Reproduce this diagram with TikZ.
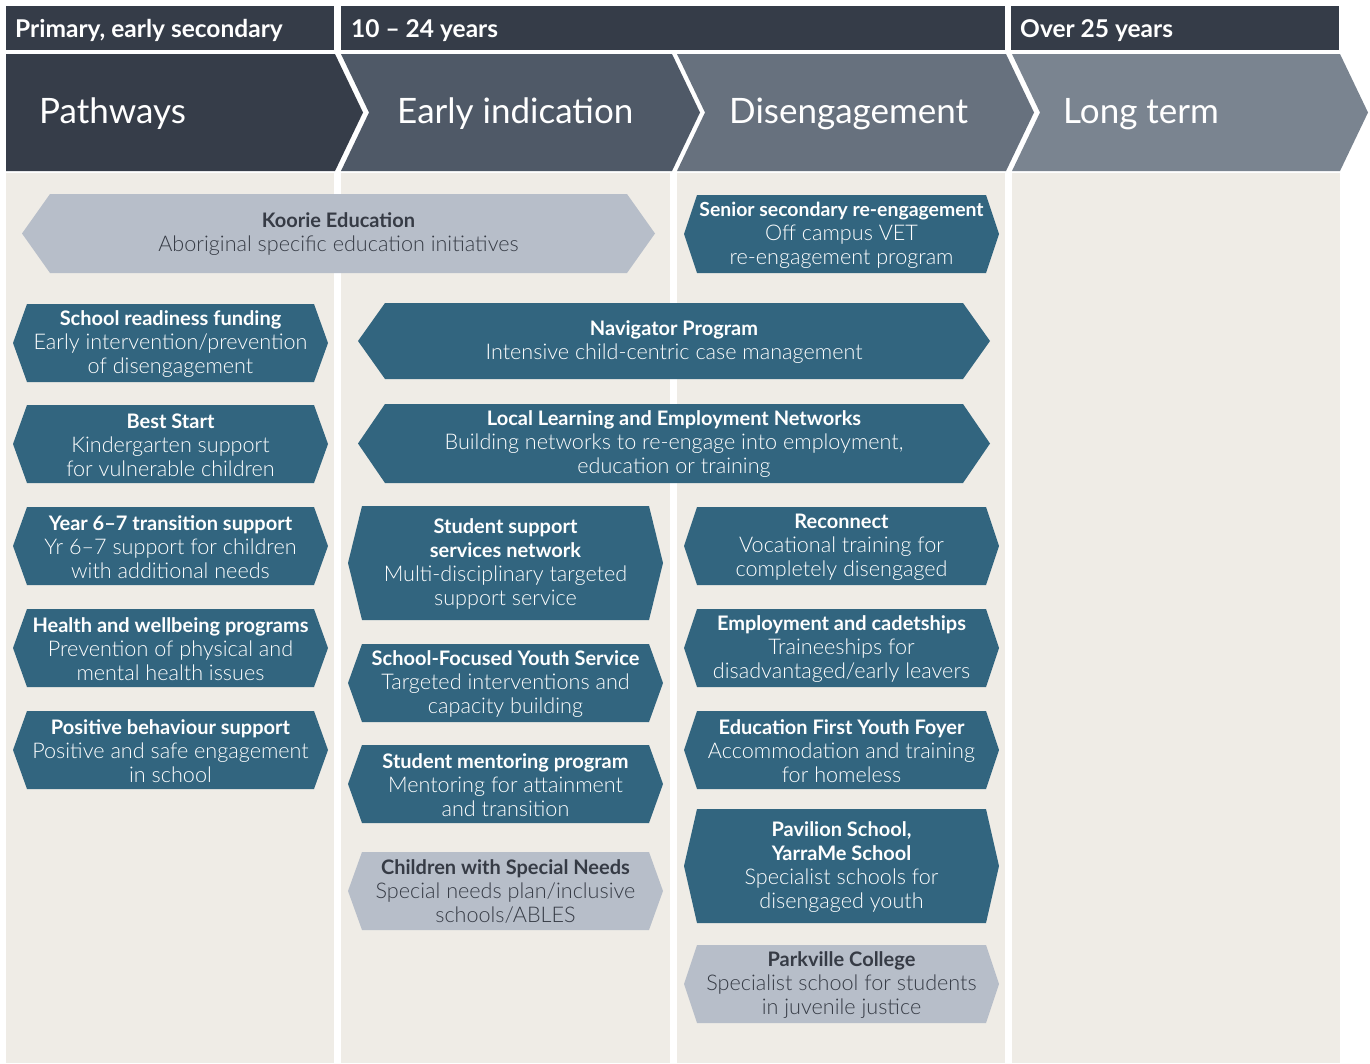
\documentclass[tikz,border=0pt]{standalone}
\usepackage{fontspec}
\setmainfont{Lato}
\newfontfamily\lightf{Lato Light}
\definecolor{hdrc}{HTML}{353C48}
\definecolor{chevA}{HTML}{363D49}
\definecolor{chevB}{HTML}{4F5967}
\definecolor{chevC}{HTML}{67717E}
\definecolor{chevD}{HTML}{7A8490}
\definecolor{beige}{HTML}{EFECE6}
\definecolor{teal}{HTML}{32657F}
\definecolor{greybox}{HTML}{B7BEC9}
\definecolor{greytxt}{HTML}{363B45}
\newcommand\ttl[1]{{\normalfont\bfseries\fontsize{20}{24}\selectfont #1}}
\newcommand\ttlsmall[1]{{\normalfont\bfseries\fontsize{19.4}{24}\selectfont #1}}
\newcommand\hexa[9]{%
  \fill[#7] (#2,{(#4+#5)/2}) -- ({#2+#6},#4) -- ({#3-#6},#4) -- (#3,{(#4+#5)/2}) -- ({#3-#6},#5) -- ({#2+#6},#5) -- cycle;
  \node[boxtext,text=#8] (#1) at ({(#2+#3)/2},{(#4+#5)/2+1}) {#9};
}
\tikzset{
  boxtext/.style={align=center,inner sep=0pt,font=\lightf\fontsize{21.6}{24}\selectfont},
  hdrtext/.style={anchor=base west,text=white,inner sep=0pt,font=\bfseries\fontsize{24.5}{28}\selectfont},
  chevtext/.style={anchor=base west,text=white,inner sep=0pt,font=\fontsize{35}{40}\selectfont},
}
\begin{document}
\begin{tikzpicture}[x=1pt,y=-1pt]
\useasboundingbox[fill=white] (0,0) rectangle (1370,1063);
% column backgrounds
\fill[beige] (6,173) rectangle (334,1063);
\fill[beige] (341,173) rectangle (670,1063);
\fill[beige] (677,173) rectangle (1005,1063);
\fill[beige] (1012,173) rectangle (1340,1063);
% header bars
\fill[hdrc] (6,6) rectangle (334,50);
\fill[hdrc] (341,6) rectangle (1005,50);
\fill[hdrc] (1011,6) rectangle (1339,50);
\node[hdrtext] (h1) at (15,37) {Primary, early secondary};
\node[hdrtext] (h2) at (351,37) {10 – 24 years};
\node[hdrtext] (h3) at (1020,37) {Over 25 years};
% chevrons
\fill[chevA] (6,54) -- (335,54) -- (363,112.5) -- (335,171) -- (6,171) -- cycle;
\fill[chevB] (341,54) -- (672,54) -- (700,112.5) -- (672,171) -- (341,171) -- (369,112.5) -- cycle;
\fill[chevC] (677,54) -- (1006,54) -- (1034,112.5) -- (1006,171) -- (677,171) -- (705,112.5) -- cycle;
\fill[chevD] (1012,54) -- (1340,54) -- (1368,112.5) -- (1340,171) -- (1012,171) -- (1040,112.5) -- cycle;
\node[chevtext] (c1) at (39,123) {Pathways};
\node[chevtext] (c2) at (397,123) {Early indication};
\node[chevtext] (c3) at (729,123) {Disengagement};
\node[chevtext] (c4) at (1063,123) {Long term};
% wide boxes
\hexa{koorie}{22}{655}{194}{273}{28}{greybox}{greytxt}{\ttl{Koorie Education}\\Aboriginal specific education initiatives}
\hexa{navigator}{358}{990}{303}{379}{27}{teal}{white}{\ttl{Navigator Program}\\Intensive child-centric case management}
\hexa{llen}{358}{990}{404}{483}{27}{teal}{white}{\ttl{Local Learning and Employment Networks}\\Building networks to re-engage into employment,\\education or training}
% column 1
\hexa{readiness}{13}{328}{304}{382}{14}{teal}{white}{\ttl{School readiness funding}\\Early intervention/prevention\\of disengagement}
\hexa{beststart}{13}{328}{405}{483}{14}{teal}{white}{\ttl{Best Start}\\Kindergarten support\\for vulnerable children}
\hexa{transition}{13}{328}{507}{585}{14}{teal}{white}{\ttl{Year 6–7 transition support}\\Yr 6–7 support for children\\with additional needs}
\hexa{health}{13}{328}{609}{687}{14}{teal}{white}{\ttl{Health and wellbeing programs}\\Prevention of physical and\\mental health issues}
\hexa{behaviour}{13}{328}{711}{789}{14}{teal}{white}{\ttl{Positive behaviour support}\\Positive and safe engagement\\in school}
% column 2
\hexa{ssn}{348}{663}{506}{620}{14}{teal}{white}{\ttl{Student support}\\\ttl{services network}\\Multi-disciplinary targeted\\support service}
\hexa{sfys}{348}{663}{644}{722}{14}{teal}{white}{\ttl{School-Focused Youth Service}\\Targeted interventions and\\capacity building}
\hexa{mentor}{348}{663}{745}{823}{14}{teal}{white}{\ttl{Student mentoring program}\\Mentoring for attainment\\and transition}
\hexa{special}{348}{663}{852}{930}{14}{greybox}{greytxt}{\ttl{Children with Special Needs}\\Special needs plan/inclusive\\schools/ABLES}
% column 3
\hexa{senior}{684}{999}{195}{273}{13}{teal}{white}{\ttlsmall{Senior secondary re-engagement}\\Off campus VET\\re-engagement program}
\hexa{reconnect}{684}{999}{507}{585}{13}{teal}{white}{\ttl{Reconnect}\\Vocational training for\\completely disengaged}
\hexa{employ}{684}{999}{609}{687}{13}{teal}{white}{\ttl{Employment and cadetships}\\Traineeships for\\disadvantaged/early leavers}
\hexa{foyer}{684}{999}{711}{789}{13}{teal}{white}{\ttl{Education First Youth Foyer}\\Accommodation and training\\for homeless}
\hexa{pavilion}{684}{999}{809}{923}{13}{teal}{white}{\ttl{Pavilion School,}\\\ttl{YarraMe School}\\Specialist schools for\\disengaged youth}
\hexa{parkville}{684}{999}{945}{1023}{13}{greybox}{greytxt}{\ttl{Parkville College}\\Specialist school for students\\in juvenile justice}
\end{tikzpicture}
\end{document}
